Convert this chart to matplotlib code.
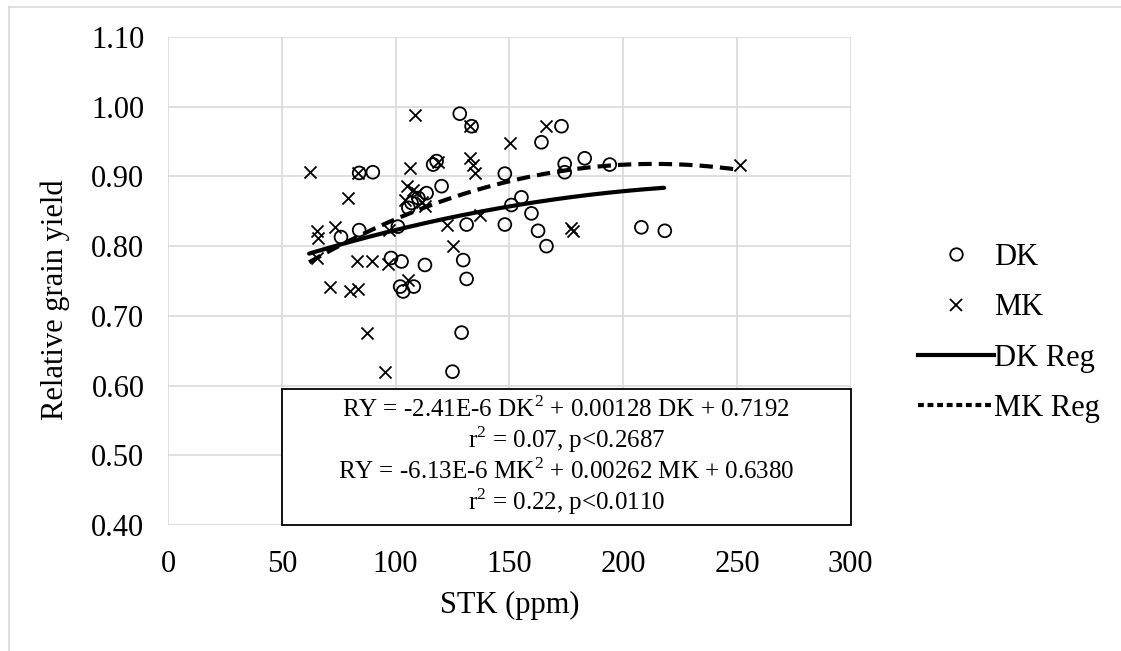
import numpy as np
import matplotlib
matplotlib.use('Agg')
import matplotlib.pyplot as plt
from matplotlib.lines import Line2D

plt.rcParams['font.family'] = ['Liberation Serif', 'DejaVu Serif']
plt.rcParams['mathtext.fontset'] = 'custom'
plt.rcParams['mathtext.rm'] = 'Liberation Serif'

# DK points (STK ppm, relative grain yield)
dk_x = [76, 84, 84, 90, 98, 101, 102.6, 102, 103.3, 108, 105.6, 107, 110, 113.6,
        112.9, 116.5, 118, 120.2, 125, 128.2, 129, 129.7, 131.2, 131.2, 133.4,
        148, 148, 150.9, 155.3, 159.7, 162.6, 164.1, 166.3, 172.9, 174.3, 174.3,
        183.1, 194.1, 208, 218.3]
dk_y = [0.813, 0.823, 0.905, 0.906, 0.783, 0.828, 0.778, 0.742, 0.735, 0.742,
        0.855, 0.862, 0.869, 0.876, 0.773, 0.917, 0.922, 0.886, 0.620, 0.990,
        0.676, 0.780, 0.753, 0.831, 0.972, 0.904, 0.831, 0.859, 0.870, 0.847,
        0.822, 0.949, 0.800, 0.972, 0.918, 0.906, 0.926, 0.917, 0.827, 0.822]

# MK points
mk_x = [62.4, 65.3, 66, 65.5, 71.1, 73.3, 79.2, 79.9, 83.6, 83.6, 82.9, 87.3,
        89.5, 95.3, 96.8, 97, 104, 104.8, 105.5, 106.3, 107.7, 108.5, 109.2,
        111.4, 112.9, 118.7, 122.4, 125.3, 132.6, 132.6, 134.1, 134.8, 137,
        150.2, 166.3, 177, 178, 251.2]
mk_y = [0.906, 0.822, 0.812, 0.783, 0.742, 0.827, 0.869, 0.735, 0.739, 0.905,
        0.778, 0.675, 0.778, 0.620, 0.775, 0.823, 0.866, 0.886, 0.752, 0.912,
        0.881, 0.988, 0.876, 0.864, 0.857, 0.920, 0.831, 0.800, 0.972, 0.926,
        0.917, 0.905, 0.845, 0.948, 0.972, 0.826, 0.822, 0.917]

# regression coefficients (a*x^2 + b*x + c) and fitted ranges
dk_coef = [-2.41e-6, 0.00128, 0.7192]
mk_coef = [-6.13e-6, 0.00262, 0.6380]
dk_range = [62, 218]
mk_range = [62, 251]

box_lines = [r'RY = -2.41E-6 DK$^2$ + 0.00128 DK + 0.7192',
             r'r$^2$ = 0.07, p<0.2687',
             r'RY = -6.13E-6 MK$^2$ + 0.00262 MK + 0.6380',
             r'r$^2$ = 0.22, p<0.0110']

fs = 22

fig = plt.figure(figsize=(11.21, 6.51), dpi=100)
ax = fig.add_axes([0.1499, 0.1935, 0.609, 0.7497])

ax.scatter(dk_x, dk_y, s=85, facecolors='none', edgecolors='black',
           linewidths=1.3, marker='o', zorder=3)
ax.scatter(mk_x, mk_y, s=75, color='black', linewidths=1.3, marker='x',
           zorder=3)

xs = np.linspace(dk_range[0], dk_range[1], 200)
ax.plot(xs, np.polyval(dk_coef, xs), color='black', lw=3.0,
        solid_capstyle='round', zorder=4)
xs = np.linspace(mk_range[0], mk_range[1], 200)
ax.plot(xs, np.polyval(mk_coef, xs), color='black', lw=3.0, ls=(0, (3.2, 1.7)),
        zorder=4)

ax.set_xlim(0, 300)
ax.set_ylim(0.40, 1.10)
ax.set_xticks(np.arange(0, 301, 50))
ax.set_yticks(np.arange(0.40, 1.101, 0.10))
ax.set_yticklabels([f'{v:.2f}' for v in np.arange(0.40, 1.101, 0.10)])
ax.grid(True, color='#d9d9d9', lw=1.2)
ax.set_axisbelow(True)
for s in ax.spines.values():
    s.set_visible(False)
ax.tick_params(length=0, labelsize=fs)
ax.tick_params(axis='x', pad=18)
ax.tick_params(axis='y', pad=17)

fig.text(510 / 1121, 1 - 605 / 651, 'STK (ppm)', fontsize=fs,
         ha='center', va='center')
fig.text(55 / 1121, 1 - 300 / 651, 'Relative grain yield', fontsize=fs,
         ha='center', va='center', rotation=90)

# equation box
ax.add_patch(plt.Rectangle((50, 0.40), 250, 0.195, facecolor='white',
                           edgecolor='black', lw=1.3, zorder=5, clip_on=False))
for i, t in enumerate(box_lines):
    ax.text(175, 0.5665 - i * 0.0445, t, ha='center', va='center',
            fontsize=18, zorder=6)

handles = [Line2D([], [], marker='o', ls='none', mfc='none', mec='black',
                  ms=9, mew=1.3),
           Line2D([], [], marker='x', ls='none', color='black', ms=8.5, mew=1.3),
           Line2D([], [], color='black', lw=3.0),
           Line2D([], [], color='black', lw=3.0, ls=(0, (1.4, 0.9)))]
fig.legend(handles, ['DK', 'MK', 'DK Reg', 'MK Reg'], loc='center left',
           bbox_to_anchor=(918 / 1121, 1 - 333 / 651), frameon=False,
           fontsize=fs, handlelength=2.5, handletextpad=0.0, labelspacing=0.7,
           borderpad=0, borderaxespad=0)

# outer chart border
fig.add_artist(Line2D([0.008, 0.008], [0, 0.99], color='#d9d9d9', lw=1.2))
fig.add_artist(Line2D([0.008, 1], [0.99, 0.99], color='#d9d9d9', lw=1.2))

fig.savefig('out.png', dpi=100)
